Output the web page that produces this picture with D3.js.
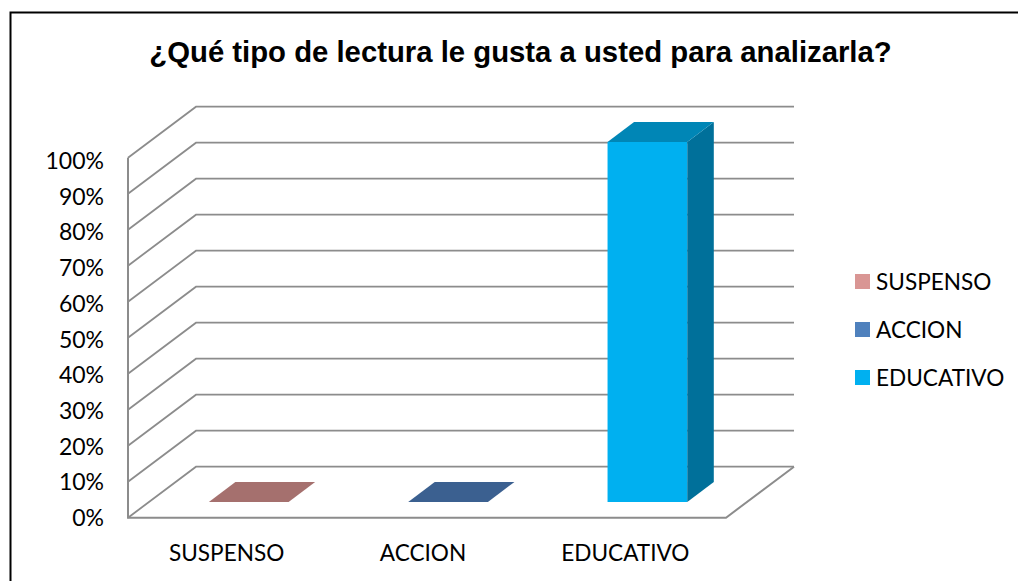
<!DOCTYPE html>
<html>
<head>
<meta charset="utf-8">
<script src="https://cdn.jsdelivr.net/npm/d3@7"></script>
<style>
html, body { margin: 0; padding: 0; background: #fff; }
svg { display: block; }
text { fill: #000; }
</style>
</head>
<body>
<svg width="1018" height="581"></svg>
<script>
const categories = ["SUSPENSO", "ACCION", "EDUCATIVO"];
const values = [0, 0, 1];
const yTicks = [0, 0.1, 0.2, 0.3, 0.4, 0.5, 0.6, 0.7, 0.8, 0.9, 1];
const frontColors = ["#d99694", "#4f81bd", "#00b0f0"];
const topColors = ["#a5706e", "#3b6090", "#0086b6"];
const sideColors = ["#8a5c5a", "#30507a", "#00709a"];
const titleText = "¿Qué tipo de lectura le gusta a usted para analizarla?";

const svg = d3.select("svg");
const gridColor = "#8c8c8c";
const labelFont = "Lato";

// Outer frame: top and left only, the picture cuts off the rest
svg.append("path")
    .attr("d", "M10.5,581V12.5H1018")
    .attr("fill", "none")
    .attr("stroke", "#000")
    .attr("stroke-width", 2);

svg.append("text")
    .attr("x", 520.5)
    .attr("y", 62)
    .attr("text-anchor", "middle")
    .attr("font-family", "Liberation Sans")
    .attr("font-weight", "bold")
    .attr("font-size", 29.3)
    .text(titleText);

// Scales: y is height on the front plane, depth runs from front (0) to back (1)
const y = d3.scaleLinear().domain([0, 1]).range([517.7, 157.7]);
const yLabel = d3.scaleLinear().domain([0, 1]).range([526, 169]);
const x = d3.scaleBand().domain(categories).range([128, 726]).paddingInner(0.6).paddingOuter(0.3);
const depthX = d3.scaleLinear().domain([0, 1]).range([0, 68]);
const depthY = d3.scaleLinear().domain([0, 1]).range([0, -51]);
const barFront = 0.31, barBack = 0.70;

const pt = (px, py, d) => [px + depthX(d), py + depthY(d)];
const poly = pts => "M" + pts.map(p => p.join(",")).join("L") + "Z";

// Gridlines: slanted part on the side wall, then straight along the back wall
svg.append("g")
    .attr("fill", "none")
    .attr("stroke", gridColor)
    .attr("stroke-width", 1.8)
    .selectAll("path")
    .data(yTicks)
    .join("path")
    .attr("d", d => d3.line()([pt(128, y(d), 0), pt(128, y(d), 1), pt(726, y(d), 1)]));

// Left axis and floor edges
svg.append("path")
    .attr("d", d3.line()([[128, y(1)], [128, y(0)], [726, y(0)], pt(726, y(0), 1)]))
    .attr("fill", "none")
    .attr("stroke", gridColor)
    .attr("stroke-width", 2);

// Bars
const bars = svg.append("g")
    .selectAll("g")
    .data(categories)
    .join("g");

bars.each(function (c, i) {
    const g = d3.select(this);
    const x0 = x(c), x1 = x(c) + x.bandwidth();
    const yb = y(0), yt = y(values[i]);
    if (values[i] > 0) {
        g.append("path").attr("fill", frontColors[i])
            .attr("d", poly([pt(x0, yb, barFront), pt(x1, yb, barFront), pt(x1, yt, barFront), pt(x0, yt, barFront)]));
        g.append("path").attr("fill", sideColors[i])
            .attr("d", poly([pt(x1, yb, barFront), pt(x1, yb, barBack), pt(x1, yt, barBack), pt(x1, yt, barFront)]));
    }
    g.append("path").attr("fill", topColors[i])
        .attr("d", poly([pt(x0, yt, barFront), pt(x1, yt, barFront), pt(x1, yt, barBack), pt(x0, yt, barBack)]));
});

// Y tick labels
svg.append("g")
    .selectAll("text")
    .data(yTicks)
    .join("text")
    .attr("x", 104)
    .attr("y", d => yLabel(d))
    .attr("text-anchor", "end")
    .attr("font-family", labelFont)
    .attr("font-size", 23)
    .text(d3.format(".0%"));

// Category labels, ACCION sits a little left of its slot in the original
svg.append("g")
    .selectAll("text")
    .data(categories)
    .join("text")
    .attr("x", (d, i) => x(d) + x.bandwidth() / 2 + (i == 1 ? -4 : -1))
    .attr("y", 561)
    .attr("text-anchor", "middle")
    .attr("font-family", labelFont)
    .attr("font-size", 22.6)
    .text(d => d);

// Legend
const legend = svg.append("g")
    .selectAll("g")
    .data(categories)
    .join("g")
    .attr("transform", (d, i) => `translate(855,${274 + i * 48})`);

legend.append("rect")
    .attr("width", 15)
    .attr("height", 15)
    .attr("fill", (d, i) => frontColors[i]);

legend.append("text")
    .attr("x", 21)
    .attr("y", 16)
    .attr("font-family", labelFont)
    .attr("font-size", 22.6)
    .text(d => d);
</script>
</body>
</html>
